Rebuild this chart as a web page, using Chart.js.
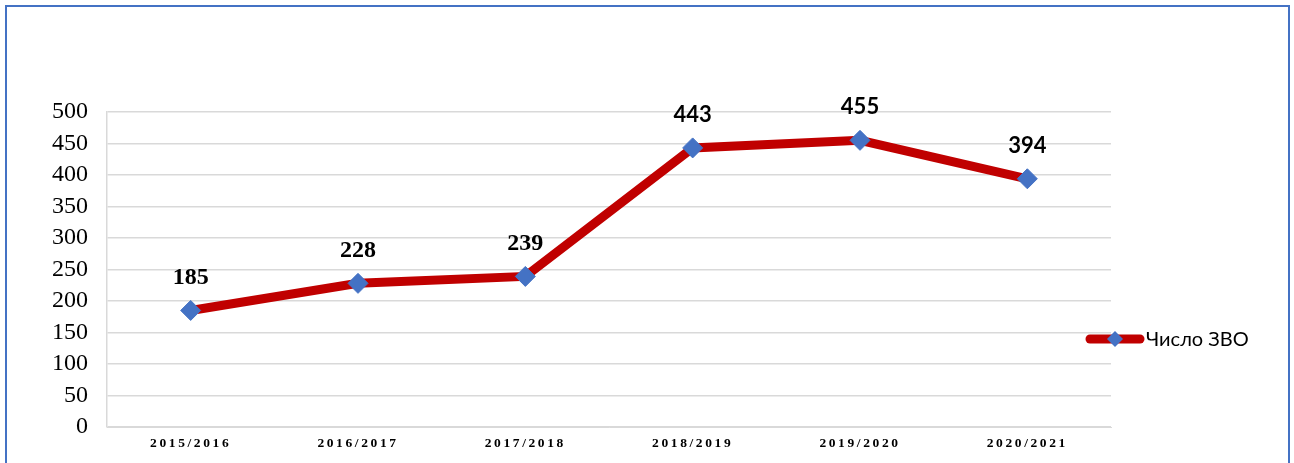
<!DOCTYPE html>
<html>
<head>
<meta charset="utf-8">
<script src="https://cdn.jsdelivr.net/npm/chart.js@4"></script>
<style>
  html, body { margin: 0; padding: 0; background: #fff; overflow: hidden; }
  #wrap { position: absolute; left: 0; top: 0; width: 1294px; height: 463px; }
  #frame { position: absolute; left: 5px; top: 5px; width: 1281px; height: 520px;
           border: 2px solid #4472C4; pointer-events: none; }
</style>
</head>
<body>
<div id="wrap"><canvas id="c" width="1294" height="463"></canvas></div>
<div id="frame"></div>
<script>
const categories = ["2015/2016", "2016/2017", "2017/2018", "2018/2019", "2019/2020", "2020/2021"];
const seriesName = "Число ЗВО";
const values = [185, 228, 239, 443, 455, 394];
const yTicks = [0, 50, 100, 150, 200, 250, 300, 350, 400, 450, 500];

const LINE = "#C00000";
const MARK = "#4472C4";
const labelFonts = ["bold 24px 'Liberation Serif'", "bold 24px 'Liberation Serif'", "bold 24px 'Liberation Serif'",
                    "bold 22px Lato", "bold 22px Lato", "bold 22px Lato"];

const extras = {
  id: 'extras',
  beforeDraw(chart) {
    const xs = chart.scales.x;
    if (!xs._wrapped) {
      const orig = xs.drawLabels.bind(xs);
      xs.drawLabels = function (area) {
        const ctx = this.ctx;
        ctx.save();
        ctx.letterSpacing = '2.6px';
        orig(area);
        ctx.restore();
        ctx.letterSpacing = '0px';
      };
      xs._wrapped = true;
    }
  },
  afterDatasetsDraw(chart) {
    const ctx = chart.ctx;
    const meta = chart.getDatasetMeta(0);
    ctx.save();
    ctx.fillStyle = '#000';
    ctx.textAlign = 'center';
    ctx.textBaseline = 'middle';
    meta.data.forEach((pt, i) => {
      ctx.font = labelFonts[i];
      ctx.fillText(String(chart.data.datasets[0].data[i]), pt.x, pt.y - 33);
    });
    ctx.restore();
  },
  afterDraw(chart) {
    const ctx = chart.ctx;
    const ds = chart.data.datasets[0];
    const x0 = 1090, x1 = 1140, y = 339;
    ctx.save();
    ctx.strokeStyle = ds.borderColor;
    ctx.lineWidth = 9;
    ctx.lineCap = 'round';
    ctx.beginPath();
    ctx.moveTo(x0, y);
    ctx.lineTo(x1, y);
    ctx.stroke();
    const cx = 1115, r = 8;
    ctx.fillStyle = MARK;
    ctx.beginPath();
    ctx.moveTo(cx, y - r); ctx.lineTo(cx + r, y); ctx.lineTo(cx, y + r); ctx.lineTo(cx - r, y);
    ctx.closePath();
    ctx.fill();
    ctx.fillStyle = '#000';
    ctx.font = "20px Lato";
    ctx.textAlign = 'left';
    ctx.textBaseline = 'middle';
    ctx.fillText(ds.label, 1146, y + 1);
    ctx.restore();
  }
};

new Chart(document.getElementById('c'), {
  type: 'line',
  data: {
    labels: categories,
    datasets: [{
      label: seriesName,
      data: values,
      borderColor: LINE,
      borderWidth: 9,
      tension: 0,
      pointStyle: 'rectRot',
      pointRadius: 10,
      pointHoverRadius: 10,
      pointBackgroundColor: MARK,
      pointBorderColor: MARK,
      pointBorderWidth: 1
    }]
  },
  options: {
    responsive: false,
    animation: false,
    events: [],
    layout: { padding: { left: 0, right: 183, top: 112, bottom: 0 } },
    plugins: { legend: { display: false }, tooltip: { enabled: false } },
    scales: {
      x: {
        offset: true,
        grid: { display: false, drawTicks: false },
        border: { display: true, color: '#d9d9d9', width: 1 },
        ticks: {
          color: '#000',
          font: { family: "'Liberation Serif'", size: 13.5, weight: 'bold' },
          padding: 8,
          maxRotation: 0,
          autoSkip: false
        },
        afterFit: s => { s.height = 36; }
      },
      y: {
        min: 0, max: 500,
        afterBuildTicks: s => { s.ticks = yTicks.map(v => ({ value: v })); },
        grid: { color: '#d9d9d9', lineWidth: 1.5, drawTicks: false },
        border: { display: true, color: '#d9d9d9', width: 1.5 },
        ticks: {
          color: '#000',
          font: { family: "'Liberation Serif'", size: 24 },
          padding: 19,
          autoSkip: false
        },
        afterFit: s => { s.width = 107; }
      }
    }
  },
  plugins: [extras]
});
</script>
</body>
</html>
